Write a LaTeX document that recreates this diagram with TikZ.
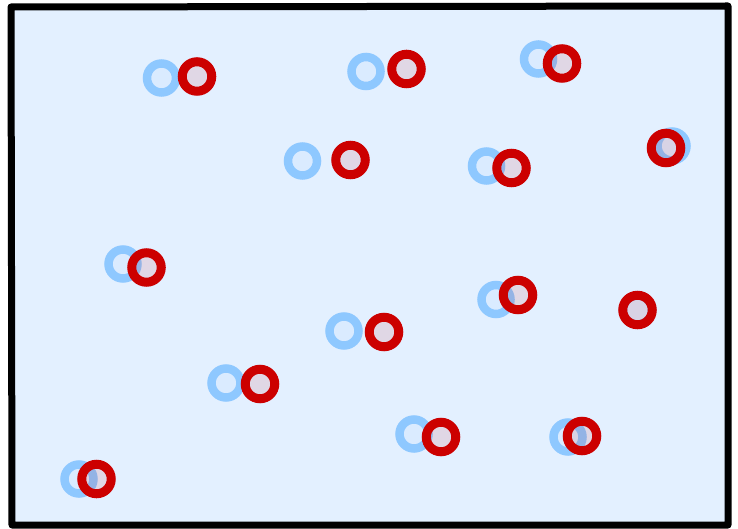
\documentclass[tikz,border=0pt]{standalone}
\definecolor{bgfill}{HTML}{E3F0FF}
\definecolor{ringblue}{HTML}{8EC8FF}
\definecolor{ringred}{HTML}{CC0000}
\begin{document}
\begin{tikzpicture}[x=1pt,y=-1pt,
  bluering/.style={circle,draw=ringblue,line width=8.5pt,fill=ringblue,fill opacity=0.1,draw opacity=1,inner sep=0pt,minimum size=29pt},
  redring/.style={circle,draw=ringred,line width=9pt,fill=ringred,fill opacity=0.1,draw opacity=1,inner sep=0pt,minimum size=29.5pt},
  frame/.style={draw=black,line width=7pt,fill=bgfill,line join=round,line cap=round}]
\useasboundingbox (0,0) rectangle (738,529);
\path[frame] (11,7) -- (728,6) -- (728,525) -- (12,525) -- cycle;
% blue rings
\node[bluering] (b1) at (161.5,78) {};
\node[bluering] (b2) at (366,71.5) {};
\node[bluering] (b3) at (538.5,59) {};
\node[bluering] (b4) at (302.5,161) {};
\node[bluering] (b5) at (486.5,166) {};
\node[bluering] (b6) at (672,146) {};
\node[bluering] (b7) at (123,264) {};
\node[bluering] (b8) at (496,299.5) {};
\node[bluering] (b9) at (637.5,310) {};
\node[bluering] (b10) at (344,331) {};
\node[bluering] (b11) at (226,383) {};
\node[bluering] (b12) at (414,434) {};
\node[bluering] (b13) at (568,437) {};
\node[bluering] (b14) at (79,479) {};
% red rings
\node[redring] (r1) at (197,76.5) {};
\node[redring] (r2) at (406.5,69) {};
\node[redring] (r3) at (562,63.5) {};
\node[redring] (r4) at (350.5,160) {};
\node[redring] (r5) at (511.5,168) {};
\node[redring] (r6) at (666,148) {};
\node[redring] (r7) at (146.5,267.5) {};
\node[redring] (r8) at (518,295) {};
\node[redring] (r9) at (637.5,310) {};
\node[redring] (r10) at (384,332) {};
\node[redring] (r11) at (260,384) {};
\node[redring] (r12) at (441,437) {};
\node[redring] (r13) at (582,436) {};
\node[redring] (r14) at (96.5,479) {};
\end{tikzpicture}
\end{document}
